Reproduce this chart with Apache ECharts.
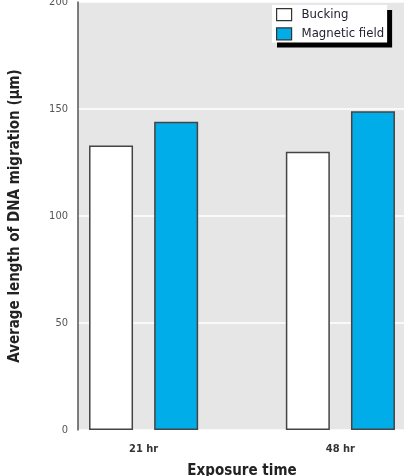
<!DOCTYPE html>
<html><head><meta charset="utf-8">
<script src="https://cdn.jsdelivr.net/npm/echarts@6/dist/echarts.min.js"></script>
<style>html,body{margin:0;padding:0;background:#fff}#c{width:404px;height:476px}</style>
</head><body><div id="c"></div>
<script>
const categories = ['21 hr', '48 hr'];
const slots = [1, 4]; // where each category sits on the x scale
const bucking = [133, 130];
const magnetic = [144, 149];
const yTicks = [0, 50, 100, 150, 200];

const FONT = '"DejaVu Sans Condensed", "Liberation Sans Narrow", "Roboto Condensed", sans-serif';
const labelAt = {};
slots.forEach((s, i) => { labelAt[s] = categories[i]; });

const chart = echarts.init(document.getElementById('c'), null, {renderer: 'canvas'});
chart.setOption({
  animation: false,
  backgroundColor: '#fff',
  grid: {left: 78, right: -2, top: 2, bottom: 46, show: true, backgroundColor: '#e6e6e6', borderWidth: 0,
         outerBoundsMode: 'none', containLabel: false},
  legend: {
    left: 272, top: 5, orient: 'vertical',
    backgroundColor: '#fff', borderColor: '#333', borderWidth: 0,
    shadowColor: '#000', shadowOffsetX: 5, shadowOffsetY: 5, shadowBlur: 0,
    padding: [3, 3, 2, 4], itemGap: 6, itemWidth: 15, itemHeight: 12,
    textStyle: {fontFamily: FONT, fontSize: 13, color: '#223', padding: [0, 0, 0, 5]},
    data: [
      {name: 'Bucking', icon: 'rect', itemStyle: {color: '#fff', borderColor: '#333', borderWidth: 1.2}},
      {name: 'Magnetic field', icon: 'rect', itemStyle: {color: '#00ade9', borderColor: '#333', borderWidth: 1.2}}
    ]
  },
  xAxis: {
    type: 'value', min: 0, max: 5, interval: 1,
    name: 'Exposure time', nameLocation: 'middle', nameGap: 34,
    nameTextStyle: {fontFamily: FONT, fontSize: 15, fontWeight: 'bold', color: '#222'},
    axisLine: {show: false}, axisTick: {show: false}, splitLine: {show: false},
    axisLabel: {
      margin: 14, fontFamily: FONT, fontSize: 11, fontWeight: 'bold', color: '#333',
      formatter: v => labelAt[v] || ''
    }
  },
  yAxis: {
    type: 'value', min: yTicks[0], max: yTicks[yTicks.length - 1], interval: yTicks[1] - yTicks[0],
    name: 'Average length of DNA migration (\u03bcm)', nameLocation: 'middle', nameGap: 55,
    nameTextStyle: {fontFamily: FONT, fontSize: 15, fontWeight: 'bold', color: '#222'},
    axisLine: {show: true, lineStyle: {color: '#555', width: 1.5}},
    axisTick: {show: false},
    axisLabel: {margin: 10, fontFamily: FONT, fontSize: 11, color: '#555'},
    splitLine: {show: true, lineStyle: {color: '#fff', width: 1.5}}
  },
  series: [
    {
      name: 'Bucking', type: 'bar', barWidth: 44, barGap: '48%',
      itemStyle: {color: '#fff', borderColor: '#444', borderWidth: 1.5},
      data: bucking.map((v, i) => [slots[i], v])
    },
    {
      name: 'Magnetic field', type: 'bar', barWidth: 44, barGap: '48%',
      itemStyle: {color: '#00ade9', borderColor: '#444', borderWidth: 1.5},
      data: magnetic.map((v, i) => [slots[i], v])
    }
  ]
});
</script></body></html>
